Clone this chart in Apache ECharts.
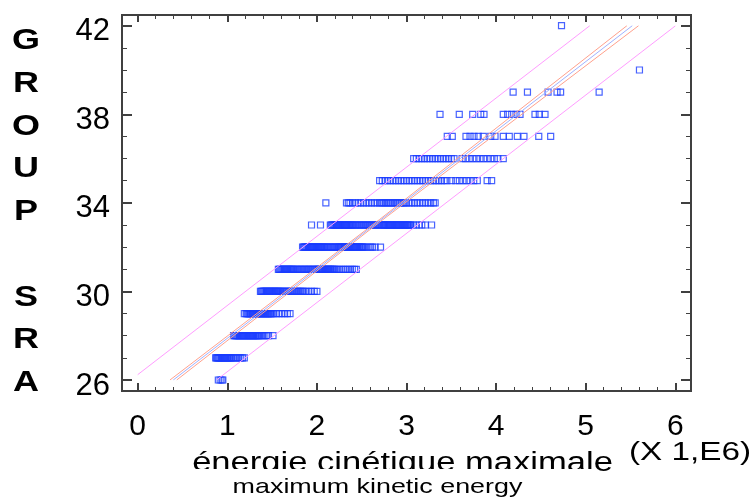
<!DOCTYPE html>
<html><head><meta charset="utf-8">
<script src="https://cdn.jsdelivr.net/npm/echarts@6/dist/echarts.min.js"></script>
<style>html,body{margin:0;padding:0;background:#fff}#c{width:756px;height:503px}</style>
</head><body><div id="c"></div>
<script>
// ---- data (x in units of 1,E6) ----
const sra26 = [0.90, 0.92, 0.94, 0.95];
const sra27 = [0.87, 0.88, 0.89, 0.90, 0.91, 0.92, 0.93, 0.94, 0.95, 0.96, 0.97, 0.98, 0.99, 1.00, 1.01, 1.02, 1.03, 1.04, 1.05, 1.07, 1.09, 1.11, 1.13, 1.15, 1.17, 1.19];
const sra28 = [1.07, 1.08, 1.09, 1.10, 1.11, 1.12, 1.13, 1.14, 1.15, 1.16, 1.17, 1.18, 1.19, 1.20, 1.21, 1.22, 1.23, 1.24, 1.25, 1.26, 1.27, 1.28, 1.29, 1.30, 1.31, 1.32, 1.33, 1.34, 1.35, 1.36, 1.38, 1.40, 1.42, 1.44, 1.46, 1.51];
const sra29 = [1.19, 1.21, 1.22, 1.23, 1.24, 1.25, 1.26, 1.27, 1.28, 1.29, 1.30, 1.31, 1.32, 1.33, 1.34, 1.35, 1.36, 1.37, 1.38, 1.39, 1.40, 1.41, 1.42, 1.43, 1.44, 1.45, 1.46, 1.47, 1.48, 1.49, 1.50, 1.52, 1.55, 1.58, 1.61, 1.64, 1.67, 1.70];
const sra30 = [1.37, 1.38, 1.39, 1.40, 1.41, 1.42, 1.43, 1.44, 1.45, 1.46, 1.47, 1.48, 1.49, 1.50, 1.51, 1.52, 1.53, 1.54, 1.55, 1.56, 1.57, 1.58, 1.59, 1.60, 1.615, 1.63, 1.645, 1.66, 1.675, 1.69, 1.705, 1.72, 1.735, 1.75, 1.765, 1.78, 1.795, 1.81, 1.825, 1.84, 1.855, 1.88, 1.91, 1.94, 1.97, 2.00];
const sra31 = [1.57, 1.58, 1.59, 1.60, 1.61, 1.62, 1.63, 1.64, 1.65, 1.66, 1.67, 1.68, 1.69, 1.70, 1.71, 1.72, 1.73, 1.74, 1.755, 1.77, 1.785, 1.80, 1.815, 1.83, 1.845, 1.86, 1.875, 1.89, 1.905, 1.92, 1.935, 1.95, 1.965, 1.98, 1.995, 2.01, 2.02, 2.03, 2.04, 2.05, 2.06, 2.07, 2.08, 2.09, 2.10, 2.11, 2.12, 2.13, 2.14, 2.15, 2.16, 2.17, 2.18, 2.19, 2.20, 2.22, 2.245, 2.27, 2.295, 2.32, 2.345, 2.37, 2.395, 2.42, 2.44];
const sra32 = [1.84, 1.85, 1.86, 1.87, 1.88, 1.89, 1.90, 1.91, 1.92, 1.93, 1.94, 1.95, 1.96, 1.97, 1.98, 1.99, 2.00, 2.01, 2.02, 2.03, 2.04, 2.05, 2.06, 2.07, 2.08, 2.09, 2.105, 2.12, 2.135, 2.15, 2.165, 2.18, 2.195, 2.21, 2.225, 2.24, 2.25, 2.26, 2.27, 2.28, 2.29, 2.30, 2.31, 2.32, 2.33, 2.34, 2.35, 2.36, 2.37, 2.38, 2.39, 2.40, 2.41, 2.42, 2.43, 2.44, 2.45, 2.46, 2.47, 2.48, 2.49, 2.50, 2.51, 2.52, 2.54, 2.57, 2.60, 2.62, 2.65, 2.71];
const sra33 = [1.94, 2.04, 2.15, 2.16, 2.17, 2.18, 2.19, 2.20, 2.21, 2.22, 2.23, 2.24, 2.25, 2.26, 2.27, 2.28, 2.29, 2.30, 2.31, 2.32, 2.33, 2.34, 2.35, 2.36, 2.37, 2.38, 2.39, 2.40, 2.415, 2.43, 2.445, 2.46, 2.475, 2.49, 2.505, 2.52, 2.535, 2.55, 2.565, 2.58, 2.595, 2.61, 2.625, 2.64, 2.655, 2.67, 2.685, 2.70, 2.715, 2.73, 2.745, 2.75, 2.76, 2.77, 2.78, 2.79, 2.80, 2.81, 2.82, 2.83, 2.84, 2.85, 2.86, 2.87, 2.88, 2.89, 2.90, 2.91, 2.92, 2.93, 2.94, 2.95, 2.96, 2.97, 2.98, 2.99, 3.00, 3.01, 3.02, 3.03, 3.04, 3.05, 3.08, 3.11, 3.14, 3.17, 3.21, 3.28];
const sra34 = [2.10, 2.33, 2.35, 2.37, 2.40, 2.43, 2.46, 2.49, 2.52, 2.55, 2.58, 2.61, 2.64, 2.67, 2.70, 2.72, 2.74, 2.76, 2.78, 2.80, 2.82, 2.84, 2.86, 2.88, 2.90, 2.92, 2.94, 2.96, 2.98, 3.00, 3.03, 3.06, 3.09, 3.12, 3.15, 3.18, 3.21, 3.24, 3.27, 3.30, 3.32];
const sra35 = [2.70, 2.73, 2.76, 2.79, 2.82, 2.85, 2.88, 2.91, 2.94, 2.97, 3.00, 3.03, 3.06, 3.09, 3.12, 3.15, 3.18, 3.21, 3.24, 3.27, 3.30, 3.33, 3.36, 3.39, 3.42, 3.45, 3.50, 3.55, 3.59, 3.63, 3.67, 3.71, 3.75, 3.79, 3.90, 3.95];
const sra36 = [3.08, 3.11, 3.14, 3.17, 3.20, 3.23, 3.26, 3.29, 3.32, 3.35, 3.38, 3.41, 3.44, 3.47, 3.50, 3.53, 3.62, 3.66, 3.70, 3.74, 3.78, 3.82, 3.86, 3.90, 3.94, 3.98, 4.02, 4.08];
const sra37 = [3.455, 3.511, 3.664, 3.709, 3.753, 3.801, 3.857, 3.940, 3.988, 4.080, 4.147, 4.237, 4.311, 4.476, 4.609];
const sra38 = [3.374, 3.589, 3.739, 3.828, 3.865, 4.080, 4.129, 4.174, 4.222, 4.267, 4.434, 4.482, 4.546];
const sra39 = [4.19, 4.35, 4.58, 4.68, 4.72, 5.15];
const sra40 = [5.60];
const sra41 = [];
const sra42 = [4.73];
const groupValues = [26, 27, 28, 29, 30, 31, 32, 33, 34, 35, 36, 37, 38, 39, 40, 41, 42];
const groupRows = [sra26, sra27, sra28, sra29, sra30, sra31, sra32, sra33, sra34, sra35, sra36, sra37, sra38, sra39, sra40, sra41, sra42];

// fitted model line, confidence and prediction limits ([x, y] as read)
const fitLine = [[0.397, 26], [5.52, 42]];
const confUpper = [[0.36, 26], [2.7, 33.25], [5.46, 42]];
const confLower = [[0.435, 26], [2.7, 33.13], [5.59, 42]];
const predUpper = [[0, 26.24], [5.046, 42]];
const predLower = [[0.88, 26], [6, 41.99]];

// axes
const xMin = 0, xMax = 6, xStep = 1;
const yMin = 26, yMax = 42, yStep = 4;
const xTitle = 'énergie cinétique maximale';
const xSubTitle = 'maximum kinetic energy';
const xUnit = '(X 1,E6)';
const yTitle = 'GROUP SRA';

const points = [];
groupRows.forEach((row, i) => row.forEach(x => points.push([x, groupValues[i]])));

const chart = echarts.init(document.getElementById('c'), null, {renderer: 'canvas'});
const tickCol = '#404040';
const font = 'Liberation Sans, Arial, sans-serif';

function xAx(grid, pos, show, showLabel) {
  return {
    type: 'value', gridIndex: grid, position: pos, min: xMin, max: xMax, interval: xStep, show: show,
    axisLine: {show: false}, splitLine: {show: false},
    axisTick: {show: true, inside: true, length: pos === 'bottom' ? 8 : 7, lineStyle: {color: tickCol, width: 2}},
    minorTick: {show: true, splitNumber: 5, length: 4, lineStyle: {color: tickCol, width: 1}},
    axisLabel: {show: showLabel, fontSize: 30, fontFamily: font, color: '#000', margin: 21}
  };
}
function yAx(grid, pos, show, showLabel) {
  return {
    type: 'value', gridIndex: grid, position: pos, min: yMin, max: yMax, interval: yStep, show: show,
    axisLine: {show: false}, splitLine: {show: false},
    axisTick: {show: true, inside: true, length: 10, lineStyle: {color: tickCol, width: 2}},
    minorTick: {show: true, splitNumber: 4, length: 5, lineStyle: {color: tickCol, width: 1}},
    axisLabel: {show: showLabel, fontSize: 31, fontFamily: font, color: '#000', margin: 12,
      verticalAlign: 'top', lineHeight: 12}
  };
}
function lineSeries(data, color) {
  return {type: 'line', data: data, symbol: 'none', silent: true, z: 5,
    xAxisIndex: 3, yAxisIndex: 3,
    lineStyle: {color: color, width: 1}, clip: true, animation: false};
}

chart.setOption({
  animation: false,
  grid: [
    {left: 122, right: 65, top: 25.7, bottom: 123, containLabel: false},
    {left: 137.7, right: 80.7, top: 15, bottom: 112, containLabel: false},
    {left: 137.7, right: 80.7, top: 25.7, bottom: 123, containLabel: false}
  ],
  xAxis: [
    xAx(0, 'bottom', false, false),
    xAx(1, 'bottom', true, true),
    xAx(1, 'top', true, false),
    xAx(2, 'bottom', false, false)
  ],
  yAxis: [
    yAx(0, 'left', true, true),
    yAx(0, 'right', true, false),
    yAx(1, 'left', false, false),
    yAx(2, 'left', false, false)
  ],
  series: [
    {type: 'scatter', data: points, symbol: 'rect', symbolSize: 6, z: 3,
      xAxisIndex: 3, yAxisIndex: 3,
      itemStyle: {color: 'rgba(0,0,0,0)', borderColor: '#1a3cff', borderWidth: 1.2}},
    lineSeries(predUpper, '#ff9cff'),
    lineSeries(predLower, '#ff9cff'),
    lineSeries(confUpper, '#ffa08c'),
    lineSeries(confLower, '#ffa08c'),
    lineSeries(fitLine, '#9fb2ff')
  ],
  graphic: [
    {type: 'rect', shape: {x: 122, y: 15, width: 569, height: 376}, z: 10, silent: true,
      style: {fill: 'none', stroke: '#404040', lineWidth: 2}},
    {type: 'text', x: 26, y: 19.6, scaleX: 1.2, z: 10, silent: true,
      style: {text: yTitle.split('').join('\n'), font: 'bold 30px ' + font, fill: '#000',
        align: 'center', verticalAlign: 'top', lineHeight: 42.75}},
    {type: 'text', x: 402.5, y: 464, scaleX: 1.28, z: 10, silent: true,
      style: {text: xTitle, font: '27px ' + font, fill: '#000', align: 'center', verticalAlign: 'middle'}},
    {type: 'rect', shape: {x: 185, y: 469, width: 409, height: 34}, z: 11, silent: true,
      style: {fill: '#fff'}},
    {type: 'text', x: 377.5, y: 487.5, scaleX: 1.28, z: 12, silent: true,
      style: {text: xSubTitle, font: '21px ' + font, fill: '#000', align: 'center', verticalAlign: 'middle'}},
    {type: 'text', x: 690, y: 452.5, scaleX: 1.28, z: 12, silent: true,
      style: {text: xUnit, font: '26px ' + font, fill: '#000', align: 'center', verticalAlign: 'middle'}}
  ]
});
</script></body></html>
